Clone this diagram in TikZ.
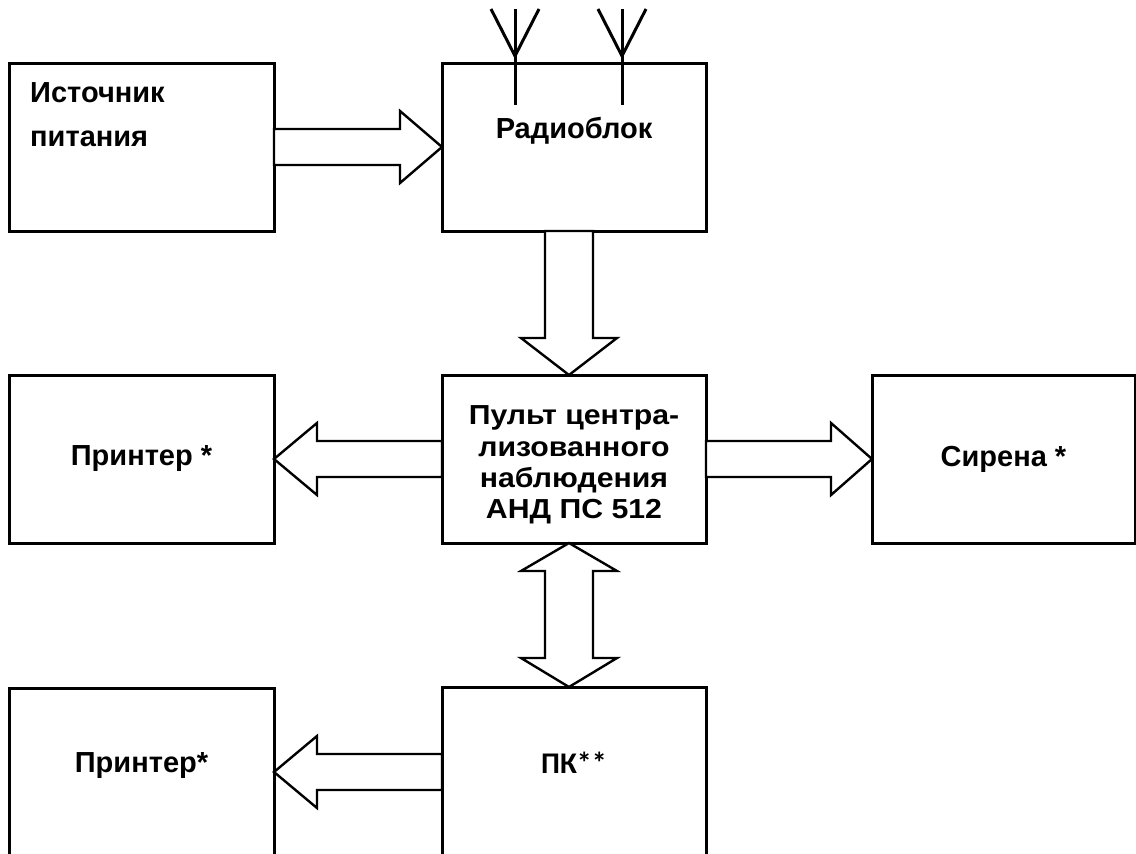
\documentclass[tikz,border=0pt]{standalone}
\usepackage{fontspec}
\setmainfont{Liberation Sans}
\newfontfamily\pcfont{Carlito}
\newfontfamily\widefont[FakeStretch=1.1]{Liberation Sans}
\usetikzlibrary{positioning,calc}
\tikzset{
box/.style={draw=black,line width=3pt,minimum width=265pt,minimum height=168pt,inner sep=0pt,outer sep=0pt,align=center,font=\fontsize{29}{33}\selectfont\bfseries},
lbl/.style={inner sep=0pt,align=left,font=\fontsize{29}{44}\selectfont\bfseries},
blockarrow/.style={draw=black,line width=2.4pt,line join=miter,fill=white},
wire/.style={draw=black,line width=3pt}
}
\newcommand{\hblock}[3]{%
\draw[blockarrow] ($(#1)+(0,-18)$) -- ($(#2)-(#3,18)$) -- ($(#2)-(#3,36)$) -- (#2)
  -- ($(#2)-(#3,-36)$) -- ($(#2)-(#3,-18)$) -- ($(#1)+(0,18)$) -- cycle;}

\begin{document}
\begin{tikzpicture}[x=1pt,y=-1pt]
\useasboundingbox[fill=white] (0,0) rectangle (1136,854);
% boxes
\node[box] (ist) at (141.5,147) {};
\node[box,minimum width=264pt,right=168pt of ist] (radio) {};
\node[box,minimum width=264pt,below=144pt of radio] (pult) {};
\node[box,left=168pt of pult] (prn1) {Принтер *};
\node[box,minimum width=263pt,right=166pt of pult] (siren) {Сирена *};
\node[box,minimum width=264pt,minimum height=170pt,below=144pt of pult] (pc) {};
\node[box,left=168pt of pc] (prn2) {};
% texts
\node[lbl,anchor=north west] (isttext) at ($(ist.north west)+(21,19)$) {Источник\\питания};
\node[lbl] (radiotext) at ($(radio.center)+(0,-16)$) {Радиоблок};
\node[lbl,align=center,font=\widefont\fontsize{27.5}{31.3}\selectfont\bfseries] (pulttext) at ($(pult.center)+(0,6)$) {Пульт центра-\\лизованного\\наблюдения\\АНД ПС 512};
\node[lbl,font=\pcfont\fontsize{30}{36}\selectfont\bfseries] (pctext) at ($(pc.center)+(0,-9)$) {ПК**};
\node[lbl] (prn2text) at ($(prn2.center)+(0,-6)$) {Принтер*};
% antennas
\foreach \ax in {73,180} {
  \draw[wire] ($(radio.north west)+(\ax,-54)$) -- ($(radio.north west)+(\ax,42)$);
  \draw[wire] ($(radio.north west)+(\ax-24,-54)$) -- ($(radio.north west)+(\ax,-7)$) -- ($(radio.north west)+(\ax+24,-54)$);
}
% block arrows
\hblock{ist.east}{radio.west}{42}
\hblock{pult.west}{prn1.east}{-43}
\coordinate (sirin) at (siren.west);
\coordinate (pultout) at (pult.east |- siren.west);
\hblock{pultout}{sirin}{41}
\hblock{pc.west}{prn2.east}{-43}
\coordinate (rs) at ($(radio.south)+(-5,0)$);
\coordinate (pn) at ($(pult.north)+(-5,0)$);
\draw[blockarrow] ($(rs)+(-24,0)$) -- ($(pn)+(-24,-37)$) -- ($(pn)+(-48,-37)$) -- (pn)
  -- ($(pn)+(48,-37)$) -- ($(pn)+(24,-37)$) -- ($(rs)+(24,0)$) -- cycle;
\coordinate (ps) at ($(pult.south)+(-5,0)$);
\coordinate (pcn) at ($(pc.north)+(-5,0)$);
\draw[blockarrow] (ps) -- ($(ps)+(48,28)$) -- ($(ps)+(24,28)$) -- ($(pcn)+(24,-29)$) -- ($(pcn)+(48,-29)$)
  -- (pcn) -- ($(pcn)+(-48,-29)$) -- ($(pcn)+(-24,-29)$) -- ($(ps)+(-24,28)$) -- ($(ps)+(-48,28)$) -- cycle;
\end{tikzpicture}
\end{document}
